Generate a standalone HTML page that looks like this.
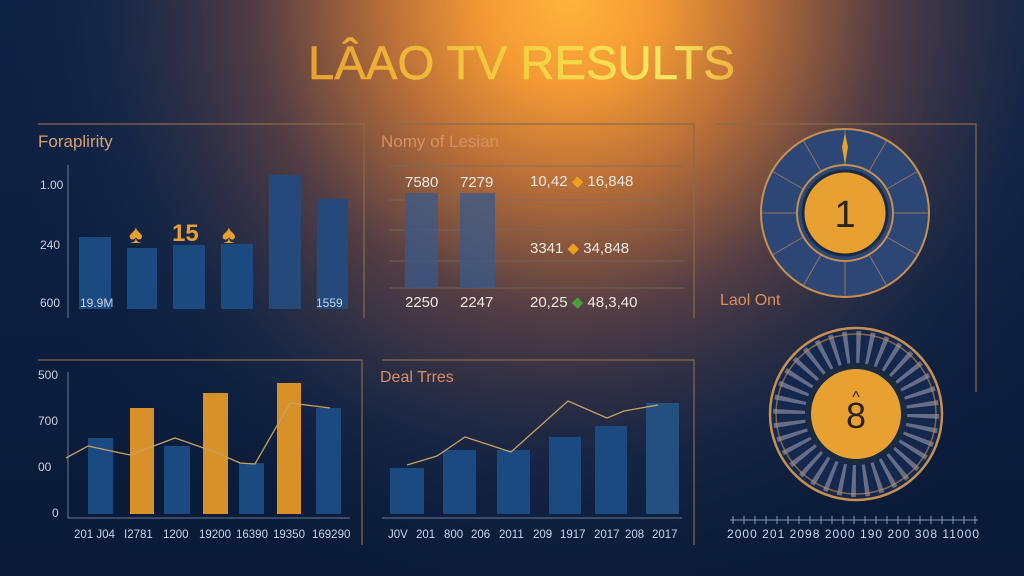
<!DOCTYPE html>
<html><head><meta charset="utf-8"><style>
html,body{margin:0;padding:0;width:1024px;height:576px;overflow:hidden;background:#0b1d3c}
svg{display:block}
text{font-family:"Liberation Sans",sans-serif}
</style></head><body>
<svg width="1024" height="576" viewBox="0 0 1024 576" xmlns="http://www.w3.org/2000/svg">
<defs>
<radialGradient id="glow" cx="570" cy="0" r="620" gradientUnits="userSpaceOnUse">
<stop offset="0" stop-color="#ffb43c"/>
<stop offset="0.14" stop-color="#f39a34"/>
<stop offset="0.3" stop-color="#b86e38"/>
<stop offset="0.5" stop-color="#553e44"/>
<stop offset="0.75" stop-color="#1c2a48" stop-opacity="0.6"/>
<stop offset="1" stop-color="#0b1d3c" stop-opacity="0"/>
</radialGradient>
<radialGradient id="glow2" cx="440" cy="230" r="280" gradientUnits="userSpaceOnUse">
<stop offset="0" stop-color="#7a5040" stop-opacity="0.55"/>
<stop offset="1" stop-color="#0b1d3c" stop-opacity="0"/>
</radialGradient>
<linearGradient id="base" x1="0" y1="0" x2="0" y2="1">
<stop offset="0" stop-color="#0d2246"/><stop offset="1" stop-color="#0a1a38"/>
</linearGradient>
<linearGradient id="tg" x1="0" y1="0" x2="1" y2="0">
<stop offset="0" stop-color="#eaa030"/><stop offset="0.5" stop-color="#f5d040"/><stop offset="0.85" stop-color="#f6e860"/><stop offset="1" stop-color="#f0b040"/>
</linearGradient>
</defs>
<rect width="1024" height="576" fill="url(#base)"/>
<rect width="1024" height="576" fill="url(#glow2)"/>
<rect width="1024" height="576" fill="url(#glow)"/>

<text x="308" y="79" font-size="47" fill="url(#tg)" stroke="url(#tg)" stroke-width="0.6" textLength="427" lengthAdjust="spacingAndGlyphs">LÂAO TV RESULTS</text>

<g stroke="#8a6a4a" stroke-width="1.2" fill="none">
<polyline points="38,124 364,124 364,318"/>
<polyline points="382,124 694,124 694,318"/>
<polyline points="716,124 976,124 976,392"/>
<polyline points="38,360 362,360 362,545"/>
<polyline points="382,360 694,360 694,545"/>
</g>
<text x="38" y="147" font-size="17" fill="#d9a070">Foraplirity</text>
<line x1="68" y1="165" x2="68" y2="318" stroke="#6a7a90"/>
<g font-size="12" fill="#c8cfe0">
<text x="40" y="189">1.00</text><text x="40" y="249">240</text><text x="40" y="307">600</text>
</g>
<g fill="#1b4a80">
<rect x="79" y="237" width="32" height="72"/>
<rect x="127" y="248" width="30" height="61"/>
<rect x="173" y="245" width="32" height="64"/>
<rect x="221" y="244" width="32" height="65"/>
<rect x="269" y="175" width="32" height="134" fill="#24497a"/>
<rect x="317" y="199" width="31" height="110" fill="#24497a"/>
</g>
<g fill="#e8a030" font-weight="bold">
<text x="129" y="243" font-size="26">♠</text>
<text x="172" y="241" font-size="24">15</text>
<text x="222" y="243" font-size="26">♠</text>
</g>
<g font-size="12" fill="#c8d4ea"><text x="80" y="307">19.9M</text><text x="316" y="307">1559</text></g>

<text x="381" y="147" font-size="17" fill="#d99060">Nomy of Lesian</text>
<g stroke="#7a6a60" stroke-width="1" opacity="0.8">
<line x1="389" y1="166" x2="684" y2="166"/><line x1="389" y1="200" x2="684" y2="200"/>
<line x1="389" y1="230" x2="684" y2="230"/><line x1="389" y1="261" x2="684" y2="261"/>
<line x1="389" y1="288" x2="684" y2="288"/>
</g>
<rect x="405" y="193" width="33" height="95" fill="#3a5a8a" opacity="0.75"/>
<rect x="460" y="193" width="35" height="95" fill="#3a5a8a" opacity="0.75"/>
<g font-size="15" fill="#f0e8e0">
<text x="405" y="187">7580</text><text x="460" y="187">7279</text>
<text x="530" y="186">10,42 <tspan fill="#f0a020">◆</tspan> 16,848</text>
<text x="530" y="253">3341 <tspan fill="#f0a020">◆</tspan> 34,848</text>
<text x="405" y="307">2250</text><text x="460" y="307">2247</text>
<text x="530" y="307">20,25 <tspan fill="#4aa040">◆</tspan> 48,3,40</text>
</g>

<g transform="translate(845,213)">
<circle r="84" fill="#2c4676" stroke="#c89050" stroke-width="2"/>
<g stroke="#b08060" stroke-width="1" opacity="0.8">
<line x1="0" y1="-84" x2="0" y2="84"/><line x1="-84" y1="0" x2="84" y2="0"/>
<line x1="-42" y1="-73" x2="42" y2="73"/><line x1="42" y1="-73" x2="-42" y2="73"/>
<line x1="-73" y1="-42" x2="73" y2="42"/><line x1="73" y1="-42" x2="-73" y2="42"/>
</g>
<circle r="48" fill="#2c4676" stroke="#c89050" stroke-width="2"/>
<circle r="42" fill="#e8a030" stroke="#1a2a40" stroke-width="3"/>
<text x="0" y="14" font-size="38" fill="#2a2418" text-anchor="middle">1</text>
<path d="M0,-80 L-3,-66 L0,-48 L3,-66 Z" fill="#e8a030"/>
</g>
<text x="720" y="305" font-size="16" fill="#d99060">Laol Ont</text>

<g transform="translate(856,414)">
<circle r="86" fill="#14284e" stroke="#c89050" stroke-width="2.5"/>
<circle r="67" fill="none" stroke="#8a8aa0" stroke-width="32" stroke-dasharray="4 7.7" opacity="0.7"/>
<circle r="80" fill="none" stroke="#c89050" stroke-width="1.5" opacity="0.6"/>
<circle r="51" fill="#1a2a40"/>
<circle r="45" fill="#e8a030"/>
<text x="0" y="14" font-size="36" fill="#2a2418" text-anchor="middle">8</text>
<text x="0" y="-12" font-size="16" fill="#2a2418" text-anchor="middle">^</text>
</g>
<line x1="730" y1="520" x2="978" y2="520" stroke="#8a9ab0"/>
<g stroke="#8a9ab0">
<path d="M733,516v8M744,516v8M755,516v8M766,516v8M777,516v8M788,516v8M799,516v8M810,516v8M821,516v8M832,516v8M843,516v8M854,516v8M865,516v8M876,516v8M887,516v8M898,516v8M909,516v8M920,516v8M931,516v8M942,516v8M953,516v8M964,516v8M975,516v8"/>
</g>
<text x="727" y="538" font-size="12" fill="#c8d4ea" textLength="252" lengthAdjust="spacing">2000 201  2098 2000    190 200 308 11000</text>

<line x1="68" y1="372" x2="68" y2="518" stroke="#6a7a90"/>
<line x1="68" y1="518" x2="350" y2="518" stroke="#6a7a90"/>
<g font-size="12" fill="#c8cfe0">
<text x="38" y="379">500</text><text x="38" y="425">700</text><text x="38" y="471">00</text><text x="52" y="517">0</text>
</g>
<rect x="88" y="438" width="25" height="76" fill="#1b4a80"/>
<rect x="130" y="408" width="24" height="106" fill="#d89028"/>
<rect x="164" y="446" width="26" height="68" fill="#1b4a80"/>
<rect x="203" y="393" width="25" height="121" fill="#d89028"/>
<rect x="239" y="463" width="25" height="51" fill="#1b4a80"/>
<rect x="277" y="383" width="24" height="131" fill="#d89028"/>
<rect x="316" y="408" width="25" height="106" fill="#1b4a80"/>
<polyline points="66,458 88,446 130,455 175,438 215,452 240,463 255,464 290,403 330,408" fill="none" stroke="#c8a060" stroke-width="1.3"/>
<g font-size="11.5" fill="#c8d4ea">
<text x="74" y="538">201 J04</text><text x="124" y="538">I2781</text><text x="163" y="538">1200</text><text x="199" y="538">19200</text><text x="236" y="538">16390</text><text x="273" y="538">19350</text><text x="312" y="538">169290</text>
</g>

<text x="380" y="382" font-size="16" fill="#d99060">Deal Trres</text>
<line x1="382" y1="518" x2="682" y2="518" stroke="#6a7a90"/>
<g fill="#1b4a80">
<rect x="390" y="468" width="34" height="46"/>
<rect x="443" y="450" width="33" height="64"/>
<rect x="497" y="450" width="33" height="64"/>
<rect x="549" y="437" width="32" height="77"/>
<rect x="595" y="426" width="32" height="88"/>
<rect x="646" y="403" width="33" height="111" fill="#245080"/>
</g>
<polyline points="407,465 437,456 465,437 511,452 568,401 607,418 624,411 658,405" fill="none" stroke="#c8a060" stroke-width="1.3"/>
<g font-size="11.5" fill="#c8d4ea">
<text x="388" y="538">J0V</text><text x="416" y="538">201</text><text x="444" y="538">800</text><text x="471" y="538">206</text><text x="499" y="538">2011</text><text x="533" y="538">209</text><text x="560" y="538">1917</text><text x="594" y="538">2017</text><text x="625" y="538">208</text><text x="652" y="538">2017</text>
</g>
</svg>
</body></html>
